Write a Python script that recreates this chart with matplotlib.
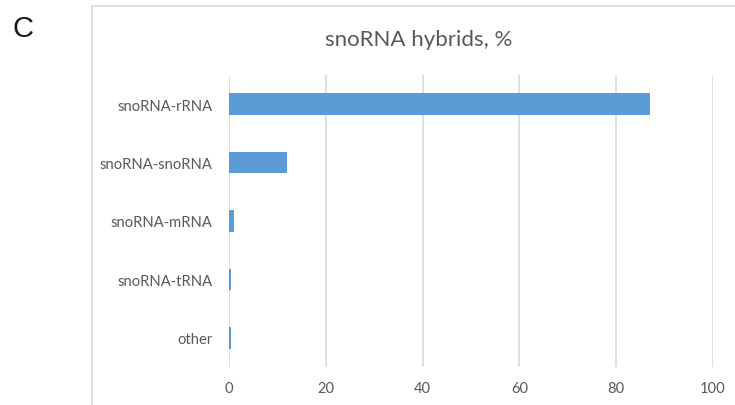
import matplotlib.pyplot as plt
from matplotlib.patches import Rectangle

categories = ["snoRNA-rRNA", "snoRNA-snoRNA", "snoRNA-mRNA", "snoRNA-tRNA", "other"]
values = [87.0, 12.0, 1.0, 0.4, 0.4]
xticks = [0, 20, 40, 60, 80, 100]

W, H = 735, 406
fig = plt.figure(figsize=(W / 100, H / 100), dpi=100)
fig.patch.set_facecolor("white")

# chart frame (extends beyond image edges)
fig.add_artist(Rectangle((92 / W, -0.1), 1.0, (1 - 7 / H) + 0.1,
                         transform=fig.transFigure, fill=False,
                         edgecolor="#D9D9D9", linewidth=1.2))

ax = fig.add_axes([229 / W, 1 - 368 / H, (713 - 229) / W, (368 - 76) / H])
pos = list(range(len(categories)))
ax.barh(pos, values, height=0.37, color="#5B9BD5", zorder=3)
ax.set_ylim(len(categories) - 0.5, -0.5)
ax.set_xlim(0, 100)
ax.set_xticks(xticks)
ax.set_yticks(pos)
ax.set_yticklabels(categories)
ax.grid(axis="x", color="#D9D9D9", linewidth=1.2, zorder=0)
for s in ax.spines.values():
    s.set_visible(False)
ax.tick_params(axis="both", length=0, labelsize=10.6, labelcolor="#595959")
ax.tick_params(axis="x", pad=10)
ax.tick_params(axis="y", pad=12)
for lab in ax.get_xticklabels() + ax.get_yticklabels():
    lab.set_fontfamily("Lato")

fig.text(419 / W, 1 - 40 / H, "snoRNA hybrids, %", ha="center", va="center",
         fontsize=16, color="#595959", family="Lato")
fig.text(12 / W, 1 - 29 / H, "C", ha="left", va="center", fontsize=21,
         color="#1a1a1a", family="Liberation Sans")

fig.savefig("out.png", dpi=100)
